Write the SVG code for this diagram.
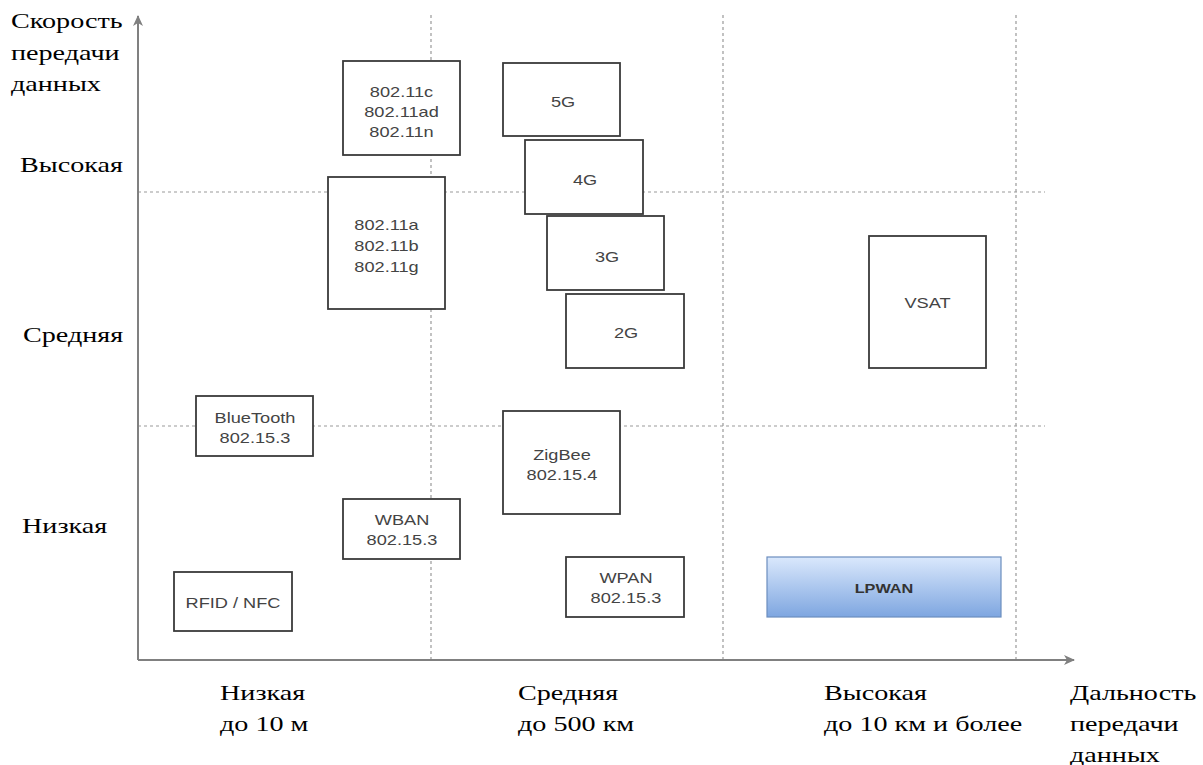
<svg xmlns="http://www.w3.org/2000/svg" width="1203" height="765" viewBox="0 0 1203 765">
<style>
.grid{stroke:#999;stroke-width:1.2;stroke-dasharray:3 3;fill:none}
.axis{stroke:#808080;stroke-width:2;fill:none}
.box{fill:#fff;stroke:#3a3a3a;stroke-width:1.8}
.bt{font-family:"Liberation Sans",Arial,sans-serif;font-size:14px;fill:#444;text-anchor:middle}
.lab{font-family:"Liberation Serif","Times New Roman",serif;font-size:22px;fill:#000}
</style>
<defs>
<marker id="arr" markerWidth="12" markerHeight="10" refX="10" refY="5" orient="auto" markerUnits="userSpaceOnUse">
<path d="M0,0 L11,5 L0,10 L3,5 Z" fill="#808080"/>
</marker>
<linearGradient id="lg" x1="0" y1="0" x2="0" y2="1">
<stop offset="0" stop-color="#dae8fc"/>
<stop offset="1" stop-color="#7ea6e0"/>
</linearGradient>
</defs>
<rect width="1203" height="765" fill="#fff"/>
<g id="connectors">
<line class="grid" x1="431" y1="15" x2="431" y2="660"/>
<line class="grid" x1="723" y1="15" x2="723" y2="660"/>
<line class="grid" x1="1016" y1="15" x2="1016" y2="660"/>
<line class="grid" x1="138" y1="192" x2="1045" y2="192"/>
<line class="grid" x1="138" y1="426" x2="1045" y2="426"/>
<line class="axis" x1="138" y1="660" x2="138" y2="16" marker-end="url(#arr)"/>
<line class="axis" x1="138" y1="660" x2="1074" y2="660" marker-end="url(#arr)"/>
</g>
<g id="n-80211c"><rect class="box" x="343" y="61" width="117" height="94"/>
<text class="bt" transform="translate(401.5,97) scale(1.3,1)">802.11c</text>
<text class="bt" transform="translate(401.5,117) scale(1.3,1)">802.11ad</text>
<text class="bt" transform="translate(401.5,137) scale(1.3,1)">802.11n</text></g>
<g id="n-80211a"><rect class="box" x="328" y="177" width="117" height="132"/>
<text class="bt" transform="translate(386.5,230) scale(1.3,1)">802.11a</text>
<text class="bt" transform="translate(386.5,251) scale(1.3,1)">802.11b</text>
<text class="bt" transform="translate(386.5,272) scale(1.3,1)">802.11g</text></g>
<g id="n-5g"><rect class="box" x="503" y="63" width="117" height="73"/><text class="bt" transform="translate(563,107) scale(1.3,1)">5G</text></g>
<g id="n-4g"><rect class="box" x="525" y="140" width="118" height="74"/><text class="bt" transform="translate(585,185) scale(1.3,1)">4G</text></g>
<g id="n-3g"><rect class="box" x="547" y="216" width="117" height="74"/><text class="bt" transform="translate(607,262) scale(1.3,1)">3G</text></g>
<g id="n-2g"><rect class="box" x="566" y="294" width="118" height="74"/><text class="bt" transform="translate(626,338) scale(1.3,1)">2G</text></g>
<g id="n-vsat"><rect class="box" x="869" y="236" width="117" height="132"/><text class="bt" transform="translate(927.5,308) scale(1.3,1)">VSAT</text></g>
<g id="n-bluetooth"><rect class="box" x="196" y="396" width="117" height="60"/>
<text class="bt" transform="translate(255,423) scale(1.3,1)">BlueTooth</text>
<text class="bt" transform="translate(255,443) scale(1.3,1)">802.15.3</text></g>
<g id="n-zigbee"><rect class="box" x="503" y="411" width="117" height="103"/>
<text class="bt" transform="translate(562,460) scale(1.3,1)">ZigBee</text>
<text class="bt" transform="translate(562,480) scale(1.3,1)">802.15.4</text></g>
<g id="n-wban"><rect class="box" x="343" y="499" width="117" height="60"/>
<text class="bt" transform="translate(402,525) scale(1.3,1)">WBAN</text>
<text class="bt" transform="translate(402,545) scale(1.3,1)">802.15.3</text></g>
<g id="n-rfid"><rect class="box" x="174" y="572" width="118" height="59"/><text class="bt" transform="translate(233,608) scale(1.3,1)">RFID / NFC</text></g>
<g id="n-wpan"><rect class="box" x="566" y="557" width="118" height="60"/>
<text class="bt" transform="translate(626,583) scale(1.3,1)">WPAN</text>
<text class="bt" transform="translate(626,603) scale(1.3,1)">802.15.3</text></g>
<g id="n-lpwan"><rect x="767" y="557" width="234" height="60" fill="url(#lg)" stroke="#6c8ebf" stroke-width="1.2"/><text class="bt" transform="translate(884,593) scale(1.25,1)" style="font-weight:bold;font-size:13px;fill:#333">LPWAN</text></g>
<g id="y-labels">
<text class="lab" transform="translate(11,28) scale(1.28,1)">Скорость</text>
<text class="lab" transform="translate(11,60) scale(1.28,1)">передачи</text>
<text class="lab" transform="translate(11,91) scale(1.28,1)">данных</text>
<text class="lab" transform="translate(20,172) scale(1.28,1)">Высокая</text>
<text class="lab" transform="translate(23,342) scale(1.28,1)">Средняя</text>
<text class="lab" transform="translate(22,533) scale(1.28,1)">Низкая</text>
</g>
<g id="x-labels">
<text class="lab" transform="translate(220,700) scale(1.28,1)">Низкая</text>
<text class="lab" transform="translate(220,731) scale(1.28,1)">до 10 м</text>
<text class="lab" transform="translate(518,700) scale(1.28,1)">Средняя</text>
<text class="lab" transform="translate(518,731) scale(1.28,1)">до 500 км</text>
<text class="lab" transform="translate(824,700) scale(1.28,1)">Высокая</text>
<text class="lab" transform="translate(824,731) scale(1.28,1)">до 10 км и более</text>
<text class="lab" transform="translate(1070,700) scale(1.28,1)">Дальность</text>
<text class="lab" transform="translate(1070,731) scale(1.28,1)">передачи</text>
<text class="lab" transform="translate(1070,762) scale(1.28,1)">данных</text>
</g>
</svg>
